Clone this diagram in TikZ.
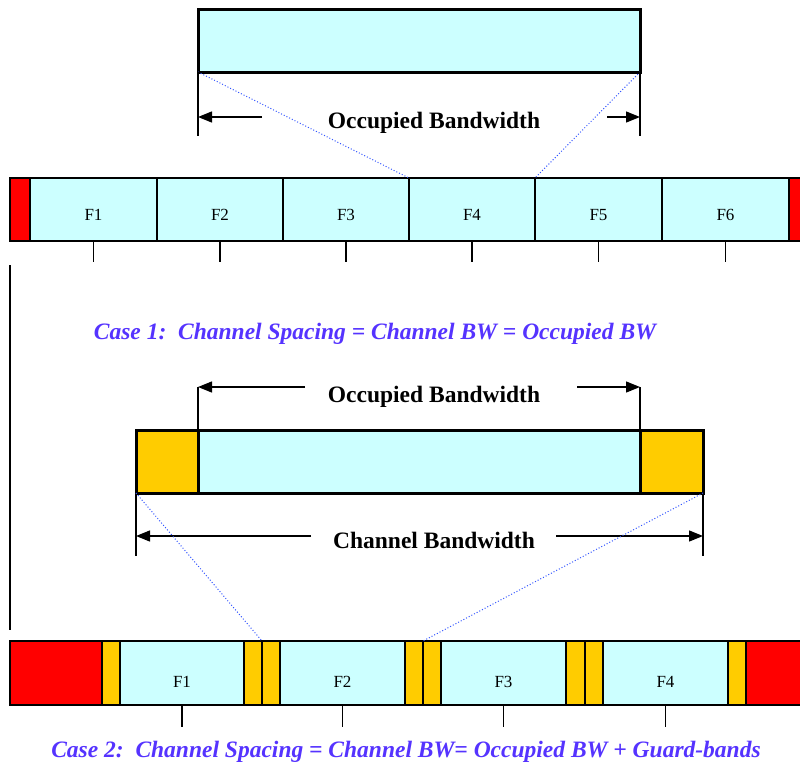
\documentclass[tikz,border=0pt]{standalone}
\usepackage{fontspec}
\setmainfont{Liberation Serif}
\usetikzlibrary{arrows.meta}
\definecolor{cellcyan}{HTML}{CCFFFF}
\definecolor{guard}{HTML}{FFCC00}
\definecolor{edgered}{HTML}{FF0000}
\definecolor{casecol}{HTML}{5533FF}
\definecolor{dotblue}{HTML}{3355FF}
\tikzset{
  cell/.style={draw=black, line width=1.3pt, anchor=north west, inner sep=0pt, outer sep=0pt, minimum height=63pt},
  cy/.style={cell, fill=cellcyan},
  og/.style={cell, fill=guard},
  rd/.style={cell, fill=edgered},
  bigbox/.style={draw=black, line width=3pt, anchor=north west, inner sep=0pt, outer sep=0pt, minimum height=62pt},
  flbl/.style={anchor=base, inner sep=0pt, font=\fontsize{17}{17}\selectfont},
  dimlbl/.style={anchor=base, inner sep=0pt, font=\bfseries\fontsize{23.5}{24}\selectfont},
  caselbl/.style={anchor=base, inner sep=0pt, text=casecol, font=\bfseries\itshape\fontsize{23.5}{24}\selectfont},
  thinline/.style={draw=black, line width=1.3pt},
  dimarrow/.style={thinline, -{Triangle[length=14pt,width=11pt]}},
  dotline/.style={draw=dotblue, line width=1pt, dotted},
  tick/.style={draw=black, line width=1.3pt}
}
\begin{document}
\begin{tikzpicture}[x=1pt,y=-1pt]
\useasboundingbox (0,0) rectangle (800,768);

% ---------- Case 1 ----------
\node[bigbox, fill=cellcyan, minimum width=442pt] (obw) at (198,10) {};

\node[rd, minimum width=20pt]  (r1l) at (10,178) {};
\node[cy, minimum width=127pt] (a1) at (30,178) {};
\node[cy, minimum width=126pt] (a2) at (157,178) {};
\node[cy, minimum width=126pt] (a3) at (283,178) {};
\node[cy, minimum width=126pt] (a4) at (409,178) {};
\node[cy, minimum width=127pt] (a5) at (535,178) {};
\node[cy, minimum width=127pt] (a6) at (662,178) {};
\node[rd, minimum width=30pt]  (r1r) at (789,178) {};

\foreach \n/\t in {a1/F1,a2/F2,a3/F3,a4/F4,a5/F5,a6/F6}{
  \node[flbl] at (\n.center |- 0,220) {\t};
  \draw[tick] (\n.south) -- ++(0,21);
}

\draw[dotline] (obw.south west) -- (a4.north west);
\draw[dotline] (obw.south east) -- (a5.north west);

\coordinate (c1l) at (198,136);
\coordinate (c1r) at (640,136);
\coordinate (c1la) at (262,117);
\coordinate (c1ra) at (607,117);
\draw[thinline] (obw.south west) -- (c1l);
\draw[thinline] (obw.south east) -- (c1r);
\draw[dimarrow] (c1la) -- (c1la -| c1l);
\draw[dimarrow] (c1ra) -- (c1ra -| c1r);
\node[dimlbl] (t1) at (434,128) {Occupied Bandwidth};

\node[caselbl] (case1) at (375,339) {Case 1:\ \ Channel Spacing = Channel BW = Occupied BW};

% left long line
\coordinate (vl1) at (10,265);
\coordinate (vl2) at (10,630);
\draw[thinline] (vl1) -- (vl2);

% ---------- Case 2 ----------
\node[bigbox, fill=guard, minimum width=62pt, minimum height=63pt] (gl) at (136,430) {};
\node[bigbox, fill=cellcyan, minimum width=442pt, minimum height=63pt] (occ) at (198,430) {};
\node[bigbox, fill=guard, minimum width=63pt, minimum height=63pt] (gr) at (640,430) {};

\coordinate (o2l) at (198,387);
\coordinate (o2r) at (640,387);
\coordinate (o2la) at (305,387);
\coordinate (o2ra) at (577,387);
\draw[thinline] (occ.north west) -- (o2l);
\draw[thinline] (occ.north east) -- (o2r);
\draw[dimarrow] (o2la) -- (o2l);
\draw[dimarrow] (o2ra) -- (o2r);
\node[dimlbl] (t2) at (434,402) {Occupied Bandwidth};

\coordinate (c2l) at (136,556);
\coordinate (c2r) at (703,556);
\coordinate (c2la) at (311,536);
\coordinate (c2ra) at (556,536);
\draw[thinline] (gl.south west) -- (c2l);
\draw[thinline] (gr.south east) -- (c2r);
\draw[dimarrow] (c2la) -- (c2la -| c2l);
\draw[dimarrow] (c2ra) -- (c2ra -| c2r);
\node[dimlbl] (t3) at (434,548) {Channel Bandwidth};

\tikzset{cell/.append style={minimum height=64pt}}
\node[rd, minimum width=92pt]  (r2l) at (10,641) {};
\node[og, minimum width=18pt]  (g1a) at (102,641) {};
\node[cy, minimum width=124pt] (b1) at (120,641) {};
\node[og, minimum width=18pt]  (g1b) at (244,641) {};
\node[og, minimum width=18pt]  (g2a) at (262,641) {};
\node[cy, minimum width=125pt] (b2) at (280,641) {};
\node[og, minimum width=18pt]  (g2b) at (405,641) {};
\node[og, minimum width=18pt]  (g3a) at (423,641) {};
\node[cy, minimum width=125pt] (b3) at (441,641) {};
\node[og, minimum width=19pt]  (g3b) at (566,641) {};
\node[og, minimum width=18pt]  (g4a) at (585,641) {};
\node[cy, minimum width=125pt] (b4) at (603,641) {};
\node[og, minimum width=18pt]  (g4b) at (728,641) {};
\node[rd, minimum width=70pt]  (r2r) at (746,641) {};

\foreach \n/\t in {b1/F1,b2/F2,b3/F3,b4/F4}{
  \node[flbl] at (\n.center |- 0,687) {\t};
  \draw[tick] (\n.south) -- ++(0,22);
}

\draw[dotline] (gl.south west) -- (g2a.north west);
\draw[dotline] (gr.south east) -- (g2b.north east);

\node[caselbl] (case2) at (406,757) {Case 2:\ \ Channel Spacing = Channel BW= Occupied BW + Guard-bands};
\end{tikzpicture}
\end{document}
